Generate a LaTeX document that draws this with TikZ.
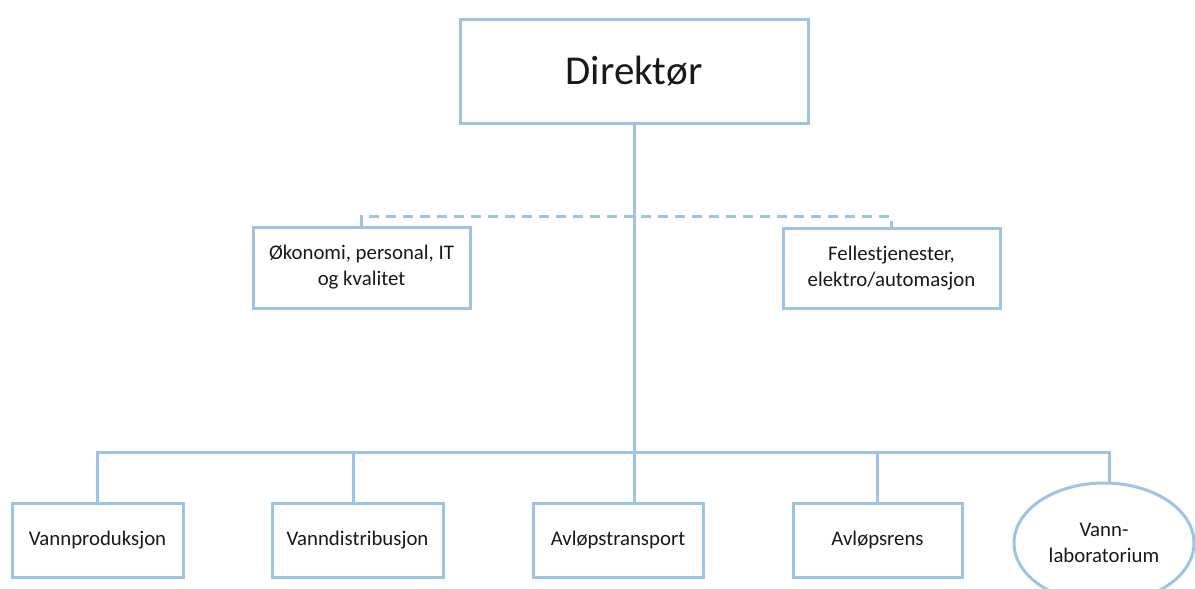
\documentclass[tikz,border=0pt]{standalone}
\usepackage{fontspec}
\setmainfont{Carlito}
\usetikzlibrary{shapes.geometric}
\definecolor{orgline}{RGB}{157,195,230}
\begin{document}
\begin{tikzpicture}[x=1pt,y=-1pt,
  unit/.style={draw=orgline, line width=3pt, fill=white, rectangle, inner sep=0pt,
    align=center, font=\fontsize{20.8}{26}\selectfont, text=black!90},
  conn/.style={draw=orgline, line width=3pt},
  dashconn/.style={conn, dash pattern=on 10pt off 7pt}]
\useasboundingbox (0,0) rectangle (1195,589);
\clip (0,0) rectangle (1195,589);

% director
\node[unit, minimum width=348pt, minimum height=104pt, font=\fontsize{41}{49}\selectfont] (dir) at (634,71) {Direktør};

% staff units
\node[unit, minimum width=217pt, minimum height=81pt] (oek) at (361.5,267.5) {Økonomi, personal, IT\\og kvalitet};
\node[unit, minimum width=217pt, minimum height=80pt] (fell) at (891.5,268) {Fellestjenester,\\elektro/automasjon};

% line units
\node[unit, minimum width=171pt, minimum height=74pt] (vp) at (97.5,540) {Vannproduksjon};
\node[unit, minimum width=171pt, minimum height=74pt] (vd) at (357.5,540) {Vanndistribusjon};
\node[unit, minimum width=170pt, minimum height=74pt] (at) at (618,540) {Avløpstransport};
\node[unit, minimum width=169pt, minimum height=74pt] (ar) at (877.5,540) {Avløpsrens};
\node[unit, ellipse, minimum width=180pt, minimum height=120pt] (lab) at (1104,543) {Vann-\\laboratorium};

\coordinate (dashbus) at (634,216);
\coordinate (bus) at (634,452);

% staff connection (dashed)
\draw[dashconn] (oek.north) -- (oek.north |- dashbus) -- (fell.north |- dashbus) -- (fell.north);

% main trunk and bus
\draw[conn] (dir.south) -- (dir.south |- at.north);
\draw[conn] (vp.north) -- (vp.north |- bus) -- ([xshift=5pt]lab.north |- bus) -- ([xshift=5pt]lab.north);
\draw[conn] ([xshift=-4.5pt]vd.north) -- ([xshift=-4.5pt]vd.north |- bus);
\draw[conn] (ar.north) -- (ar.north |- bus);
\end{tikzpicture}
\end{document}
